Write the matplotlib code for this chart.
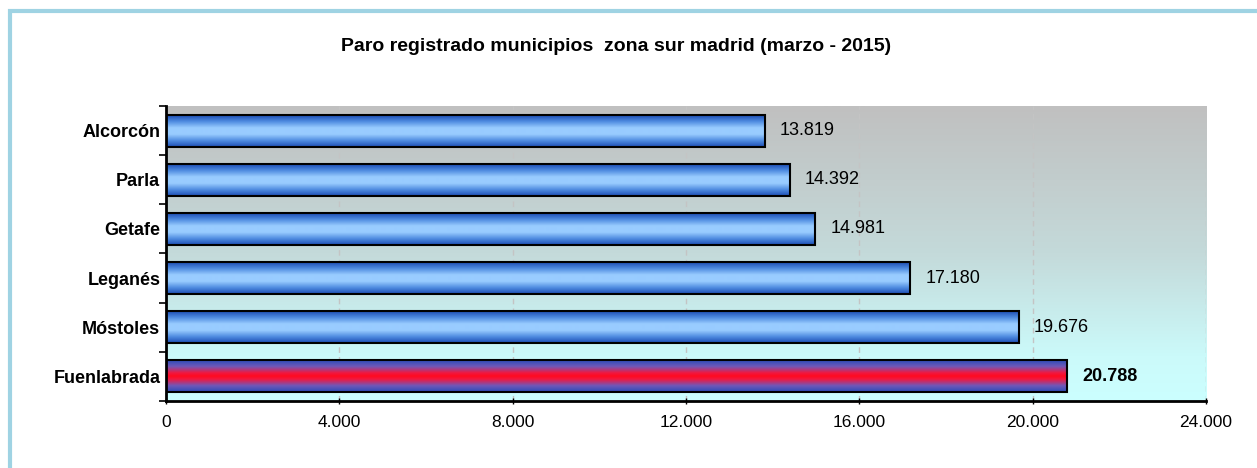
import numpy as np
import matplotlib.pyplot as plt
from matplotlib.colors import LinearSegmentedColormap
from matplotlib.patches import Rectangle

plt.rcParams["font.family"] = ["Liberation Sans", "DejaVu Sans"]

municipios = ["Alcorcón", "Parla", "Getafe", "Leganés", "Móstoles", "Fuenlabrada"]
parados = [13819, 14392, 14981, 17180, 19676, 20788]
etiquetas = ["13.819", "14.392", "14.981", "17.180", "19.676", "20.788"]
xticks = [0, 4000, 8000, 12000, 16000, 20000, 24000]
xtick_labels = ["0", "4.000", "8.000", "12.000", "16.000", "20.000", "24.000"]
destacado = "Fuenlabrada"

fig = plt.figure(figsize=(12.57, 4.68), dpi=100)
ax = fig.add_axes([0.132, 0.1432, 0.8274, 0.6303])

# marco exterior
fig.patches.append(Rectangle((10 / 1257, -0.05), 1.2, 1 - 11 / 468 + 0.05,
                             transform=fig.transFigure, fill=False,
                             edgecolor="#9fd3e3", linewidth=3, zorder=0))

n = len(municipios)
y = np.arange(n)[::-1]

# fondo degradado gris -> cian
fondo = LinearSegmentedColormap.from_list(
    "fondo", [(0, "#c0c0c0"), (0.5, "#c4dada"), (0.85, "#cbfafa"), (1, "#ccffff")])
grad = np.linspace(0, 1, 256).reshape(-1, 1)
ax.imshow(grad, cmap=fondo, extent=[0, 24000, -0.5, n - 0.5], aspect="auto",
          origin="upper", zorder=0)

azul = LinearSegmentedColormap.from_list(
    "azul", ["#1c4cb4", "#4f8ce0", "#99ccff", "#99ccff", "#4f8ce0", "#1c4cb4"])
rojo = LinearSegmentedColormap.from_list(
    "rojo", [(0, "#2a4cb8"), (0.2, "#7058b8"), (0.4, "#f01840"), (0.5, "#ff0a20"),
             (0.6, "#f01840"), (0.8, "#7058b8"), (1, "#2a4cb8")])

alto = 0.65
bars = ax.barh(y, parados, height=alto, facecolor="none", edgecolor="black",
               linewidth=1.5, zorder=3)
for bar, nombre in zip(bars, municipios):
    cmap = rojo if nombre == destacado else azul
    x0, y0 = bar.get_x(), bar.get_y()
    im = ax.imshow(grad, cmap=cmap, extent=[x0, x0 + bar.get_width(), y0, y0 + bar.get_height()],
                   aspect="auto", zorder=2)
    im.set_clip_path(bar)

for yi, v, txt, nombre in zip(y, parados, etiquetas, municipios):
    ax.annotate(txt, (v, yi), xytext=(11, 0), textcoords="offset points",
                va="center", ha="left", fontsize=13,
                fontweight="bold" if nombre == destacado else "normal")

ax.set_xlim(0, 24000)
ax.set_ylim(-0.5, n - 0.5)
ax.set_xticks(xticks)
ax.set_xticklabels(xtick_labels, fontsize=12.5)
ax.set_yticks(y)
ax.set_yticklabels(municipios, fontsize=13, fontweight="bold")
ax.tick_params(axis="y", length=0, pad=4)
ax.set_yticks(np.arange(-0.5, n), minor=True)
ax.tick_params(axis="y", which="minor", length=5, width=1.2, direction="out")
ax.tick_params(axis="x", length=4, width=1, direction="inout", pad=8)

ax.grid(axis="x", color="#c4c4c4", linestyle=(0, (4, 3)), linewidth=1, zorder=1)
for g in ax.get_xgridlines():
    g.set_zorder(1)

for s in ["top", "right"]:
    ax.spines[s].set_visible(False)
for s in ["left", "bottom"]:
    ax.spines[s].set_linewidth(2)
    ax.spines[s].set_zorder(4)

fig.text(0.49, 0.9, "Paro registrado municipios  zona sur madrid (marzo - 2015)",
         ha="center", va="center", fontsize=14, fontweight="bold")

fig.savefig("out.png", dpi=100)
